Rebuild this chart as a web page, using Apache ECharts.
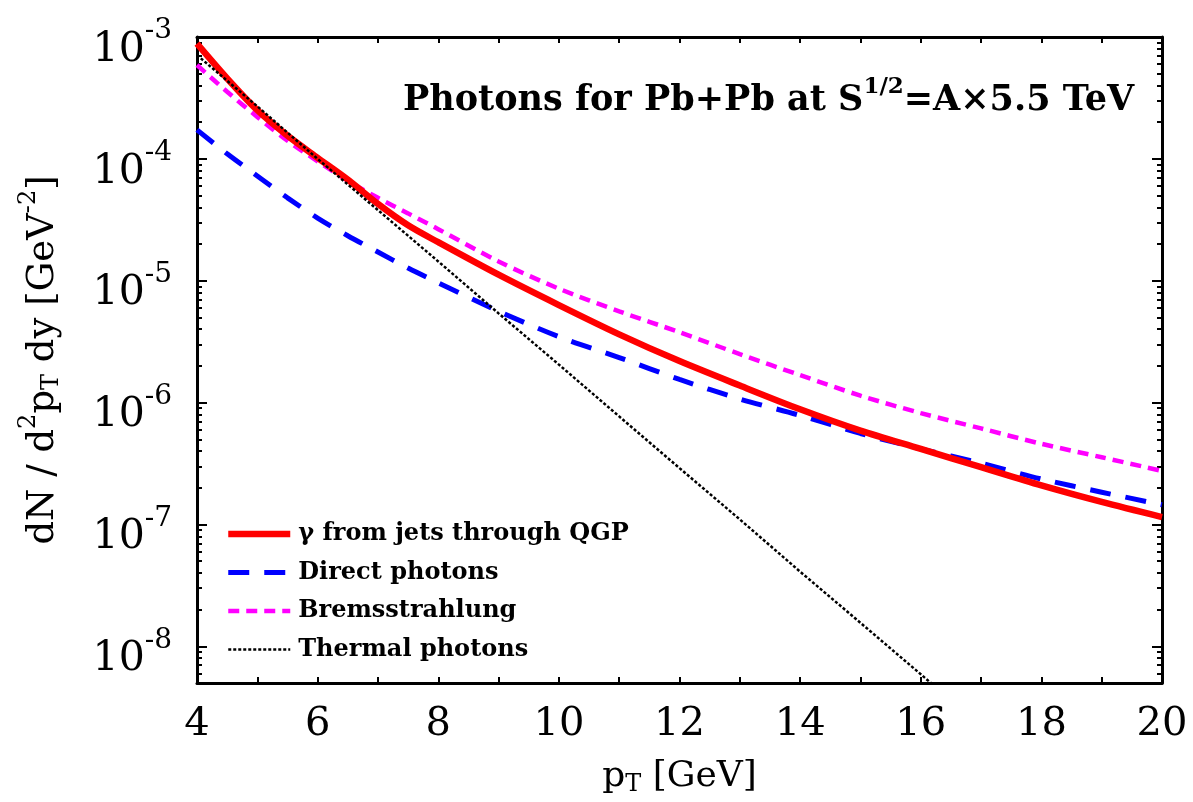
<!DOCTYPE html>
<html>
<head>
<meta charset="utf-8">
<script src="https://cdn.jsdelivr.net/npm/echarts@6/dist/echarts.min.js"></script>
<style>
  html, body { margin: 0; padding: 0; background: #ffffff; }
  #chart { width: 1193px; height: 802px; }
</style>
</head>
<body>
<div id="chart"></div>
<script>
// Transverse-momentum grid (GeV) shared by the three smooth spectra
const pt = [4, 4.5, 5, 5.5, 6, 6.5, 7, 7.5, 8, 9, 10, 11, 12, 13, 14, 15, 16, 17, 18, 19, 20];

// dN / d^2pT dy  [GeV^-2]
const jetsThroughQGP = [8.81e-4, 4.57e-4, 2.51e-4, 1.55e-4, 1.02e-4, 6.76e-5, 4.27e-5, 2.85e-5, 2.07e-5, 1.12e-5, 6.31e-6,
                        3.63e-6, 2.19e-6, 1.38e-6, 8.81e-7, 5.89e-7, 4.17e-7, 2.95e-7, 2.09e-7, 1.53e-7, 1.15e-7];
const directPhotons  = [1.73e-4, 1.10e-4, 7.24e-5, 4.79e-5, 3.27e-5, 2.34e-5, 1.72e-5, 1.27e-5, 9.62e-6, 5.62e-6, 3.47e-6,
                        2.34e-6, 1.55e-6, 1.07e-6, 7.85e-7, 5.58e-7, 4.17e-7, 3.18e-7, 2.36e-7, 1.84e-7, 1.45e-7];
const bremsstrahlung = [5.89e-4, 3.55e-4, 2.21e-4, 1.41e-4, 9.55e-5, 6.61e-5, 4.79e-5, 3.57e-5, 2.65e-5, 1.44e-5, 8.61e-6,
                        5.61e-6, 3.78e-6, 2.50e-6, 1.68e-6, 1.14e-6, 8.20e-7, 6.14e-7, 4.59e-7, 3.56e-7, 2.75e-7];

// Thermal spectrum is a pure exponential, so a coarser grid suffices
const thermalPt = [4, 5, 6, 7, 8, 9, 10, 11, 12, 13, 14, 15, 16, 17];
const thermalPhotons = [7.1e-4, 2.7e-4, 1.0e-4, 3.8e-5, 1.44e-5, 5.4e-6, 2.05e-6, 7.7e-7, 2.9e-7, 1.1e-7, 4.1e-8, 1.56e-8, 5.9e-9, 2.2e-9];

const seriesNames = ['\u03b3 from jets through QGP', 'Direct photons', 'Bremsstrahlung', 'Thermal photons'];

// Axis ticks
const xLabelValues = [4, 6, 8, 10, 12, 14, 16, 18, 20];
const yMajorTicks = [1e-8, 1e-7, 1e-6, 1e-5, 1e-4, 1e-3];
const yMinorTicks = [];
[1e-9, 1e-8, 1e-7, 1e-6, 1e-5, 1e-4].forEach(function (d) {
  for (let k = 2; k <= 9; k++) {
    const v = +(k * d).toPrecision(3);
    if (v >= 5e-9 && v <= 1e-3) yMinorTicks.push(v);
  }
});

const FONT = 'DejaVu Serif';
const Y_MIN = 5e-9, Y_MAX = 1e-3;

function pairs(xs, ys) { return xs.map(function (x, i) { return [x, ys[i]]; }); }

function yAxisDef(position, ticks, tickLen, showLine, showLabel) {
  return {
    type: 'log', logBase: 10, min: Y_MIN, max: Y_MAX, position: position,
    axisLine: { show: showLine, onZero: false, lineStyle: { color: '#000', width: 3 } },
    axisTick: { show: true, inside: true, length: tickLen, customValues: ticks, lineStyle: { color: '#000', width: 2 } },
    splitLine: { show: false },
    minorTick: { show: false },
    axisLabel: showLabel ? {
      customValues: yMajorTicks,
      margin: 25,
      padding: [26, 0, 0, 0],
      formatter: function (v) { return '{b|10}{s|' + Math.round(Math.log10(v)) + '}'; },
      rich: {
        b: { fontFamily: FONT, fontSize: 41, color: '#000' },
        s: { fontFamily: FONT, fontSize: 28, color: '#000', padding: [0, 0, 38, 0] }
      }
    } : { show: false }
  };
}

function xAxisDef(position, showLabel) {
  return {
    type: 'value', min: 4, max: 20, interval: 1, position: position,
    axisLine: { show: true, onZero: false, lineStyle: { color: '#000', width: 3 } },
    axisTick: { show: true, inside: true, length: 6, lineStyle: { color: '#000', width: 2 } },
    splitLine: { show: false },
    axisLabel: showLabel ? {
      customValues: xLabelValues,
      margin: 22,
      fontFamily: FONT, fontSize: 40, color: '#000'
    } : { show: false }
  };
}

const chart = echarts.init(document.getElementById('chart'), null, { renderer: 'canvas' });

const xBottom = xAxisDef('bottom', true);
xBottom.name = '{m|p}{t|T}{m| [GeV]}';
xBottom.nameLocation = 'middle';
xBottom.nameGap = 74;
xBottom.nameTextStyle = {
  rich: {
    m: { fontFamily: FONT, fontSize: 36, color: '#000' },
    t: { fontFamily: FONT, fontSize: 24, color: '#000', padding: [16, 0, 0, 0] }
  }
};

const yLeft = yAxisDef('left', yMajorTicks, 10, true, true);
yLeft.name = '{m|dN / d}{s|2}{m|p}{t|T}{m| dy [GeV}{s|-2}{m|]}';
yLeft.nameLocation = 'middle';
yLeft.nameRotate = 90;
yLeft.nameGap = 128;
yLeft.nameTextStyle = {
  rich: {
    m: { fontFamily: FONT, fontSize: 37, color: '#000' },
    s: { fontFamily: FONT, fontSize: 24, color: '#000', padding: [0, 0, 28, 0] },
    t: { fontFamily: FONT, fontSize: 24, color: '#000', padding: [18, 0, 0, 0] }
  }
};

chart.setOption({
  backgroundColor: '#ffffff',
  animation: false,
  title: {
    text: '{m|Photons for Pb+Pb at S}{s|1/2}{m|=A\u00d75.5 TeV}',
    left: 398, top: 71,
    textStyle: {
      fontWeight: 'bold',
      rich: {
        m: { fontFamily: FONT, fontSize: 35, fontWeight: 'bold', color: '#000' },
        s: { fontFamily: FONT, fontSize: 23, fontWeight: 'bold', color: '#000', padding: [0, 0, 26, 0] }
      }
    }
  },
  grid: { left: 197, right: 31, top: 37, bottom: 119, containLabel: false },
  legend: {
    orient: 'vertical', left: 220, top: 516,
    itemWidth: 62, itemHeight: 14, itemGap: 12.5,
    data: seriesNames,
    itemStyle: { opacity: 0 },
    lineStyle: { width: 'inherit' },
    textStyle: { fontFamily: FONT, fontSize: 24, fontWeight: 'bold', color: '#000', lineHeight: 26, padding: [0, 0, 0, 3] }
  },
  xAxis: [xBottom, xAxisDef('top', false)],
  yAxis: [
    yLeft,
    yAxisDef('left', yMinorTicks, 5, false, false),
    yAxisDef('right', yMajorTicks, 10, true, false),
    yAxisDef('right', yMinorTicks, 5, false, false)
  ],
  series: [
    {
      name: seriesNames[1], type: 'line', data: pairs(pt, directPhotons),
      symbol: 'none', smooth: 0.3, clip: true,
      lineStyle: { color: '#0000ff', width: 5, type: [21, 15] }, itemStyle: { color: '#0000ff' }
    },
    {
      name: seriesNames[2], type: 'line', data: pairs(pt, bremsstrahlung),
      symbol: 'none', smooth: 0.3, clip: true,
      lineStyle: { color: '#ff00ff', width: 4.5, type: [11, 7] }, itemStyle: { color: '#ff00ff' }
    },
    {
      name: seriesNames[0], type: 'line', data: pairs(pt, jetsThroughQGP),
      symbol: 'none', smooth: 0.3, clip: true,
      lineStyle: { color: '#ff0000', width: 6.5, type: 'solid' }, itemStyle: { color: '#ff0000' }
    },
    {
      name: seriesNames[3], type: 'line', data: pairs(thermalPt, thermalPhotons),
      symbol: 'none', smooth: false, clip: true,
      lineStyle: { color: '#000000', width: 2.5, type: [3, 2] }, itemStyle: { color: '#000000' }
    }
  ]
});
</script>
</body>
</html>
